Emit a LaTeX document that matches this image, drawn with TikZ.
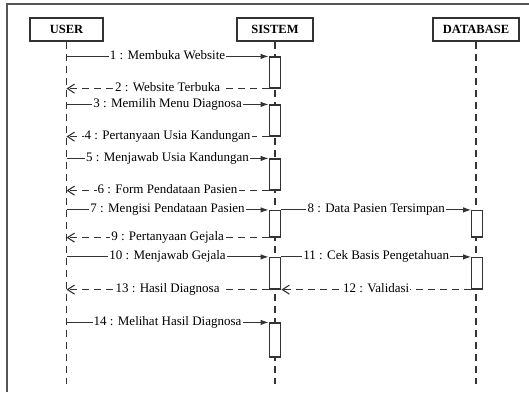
\documentclass[tikz,border=0pt]{standalone}
\usepackage{fontspec}
\setmainfont{Liberation Serif}
\usetikzlibrary{arrows.meta}
\definecolor{ink}{HTML}{333333}
\definecolor{frame}{HTML}{555555}
\begin{document}
\begin{tikzpicture}[x=1pt,y=-1pt,
  actor/.style={draw=ink, line width=1.3pt, fill=white, inner sep=0pt,
    minimum height=23, font=\fontsize{12.5}{14}\selectfont\bfseries},
  act/.style={draw=ink, line width=1.2pt, fill=white, inner sep=0pt, minimum width=11.5},
  life/.style={draw=ink, line width=1.2pt, dash pattern=on 7pt off 5pt},
  call/.style={draw=ink, line width=1.1pt, -{Latex[length=8pt,width=5.5pt]}},
  ret/.style={draw=ink, line width=1.1pt, dash pattern=on 7pt off 5pt,
    -{Straight Barb[length=7pt,width=9pt]}},
  msglbl/.style={fill=white, inner sep=1.2pt, text=black, text height=1.5ex, text depth=0.25ex,
    font=\fontsize{13}{15}\selectfont},
]
\useasboundingbox (0,0) rectangle (529,392);

% outer frame (top and left edges)
\draw[frame, line width=1.8pt] (7,392) -- (7,4) -- (529,4);

% actors
\node[actor, minimum width=73] (user) at (66.5,29.5) {USER};
\node[actor, minimum width=76] (sys) at (275,29.5) {SISTEM};
\node[actor, minimum width=86] (db) at (476,29.5) {DATABASE};

% lifelines
\coordinate (bottom) at (0,384);
\draw[life] (user.south) -- (user.south |- bottom);
\draw[life] (sys.south) -- (sys.south |- bottom);
\draw[life] (db.south) -- (db.south |- bottom);

% activation bars
\node[act, minimum height=31] (a1) at (275,72.5) {};
\node[act, minimum height=31] (a2) at (275,120.5) {};
\node[act, minimum height=31] (a3) at (275,174.5) {};
\node[act, minimum height=26.5] (a4) at (275,223.75) {};
\node[act, minimum height=31.5] (a5) at (275,273.25) {};
\node[act, minimum height=34] (a6) at (275,340) {};
\node[act, minimum height=26.5, minimum width=10.5] (d1) at (477,223.75) {};
\node[act, minimum height=31.5, minimum width=10.5] (d2) at (477,273.25) {};

% messages
\draw[call] (user.south |- a1.north west) -- node[msglbl] {1 : Membuka Website} (a1.north west);
\draw[ret] (a1.south west) -- node[msglbl] {2 : Website Terbuka} (user.south |- a1.south west);
\draw[call] (user.south |- a2.north west) -- node[msglbl] {3 : Memilih Menu Diagnosa} (a2.north west);
\draw[ret] (a2.south west) -- node[msglbl] {4 : Pertanyaan Usia Kandungan} (user.south |- a2.south west);
\draw[call] (user.south |- a3.north west) -- node[msglbl] {5 : Menjawab Usia Kandungan} (a3.north west);
\draw[ret] (a3.south west) -- node[msglbl] {6 : Form Pendataan Pasien} (user.south |- a3.south west);
\draw[call] (user.south |- a4.north west) -- node[msglbl] {7 : Mengisi Pendataan Pasien} (a4.north west);
\draw[call] (a4.north east) -- node[msglbl] {8 : Data Pasien Tersimpan} (d1.north west);
\draw[ret] (a4.south west) -- node[msglbl] {9 : Pertanyaan Gejala} (user.south |- a4.south west);
\draw[call] (user.south |- a5.north west) -- node[msglbl] {10 : Menjawab Gejala} (a5.north west);
\draw[call] (a5.north east) -- node[msglbl] {11 : Cek Basis Pengetahuan} (d2.north west);
\draw[ret] (d2.south west) -- node[msglbl] {12 : Validasi} (a5.south east);
\draw[ret] (a5.south west) -- node[msglbl] {13 : Hasil Diagnosa} (user.south |- a5.south west);
\draw[call] (user.south |- a6.north west) -- node[msglbl] {14 : Melihat Hasil Diagnosa} (a6.north west);
\end{tikzpicture}
\end{document}
